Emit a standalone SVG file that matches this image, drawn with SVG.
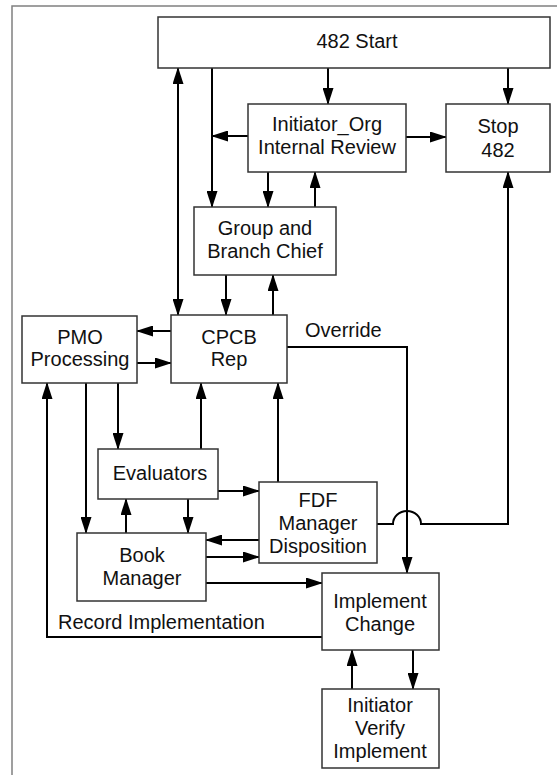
<svg xmlns="http://www.w3.org/2000/svg" width="557" height="775" viewBox="0 0 557 775">
<style>
.box{fill:#fff;stroke:#333;stroke-width:1.5}
.lbl{font-family:"Liberation Sans",Arial,sans-serif;font-size:20px;fill:#111;text-anchor:middle}
.free{font-family:"Liberation Sans",Arial,sans-serif;font-size:20px;fill:#111}
.c{fill:none;stroke:#000;stroke-width:2}
.a{marker-end:url(#ah)}
.b{marker-start:url(#as);marker-end:url(#ah)}
</style>
<defs>
<marker id="ah" markerUnits="userSpaceOnUse" markerWidth="17" markerHeight="11" refX="16" refY="5.5" orient="auto">
<path d="M0,0 L17,5.5 L0,11 z" fill="#000"/>
</marker>
<marker id="as" markerUnits="userSpaceOnUse" markerWidth="17" markerHeight="11" refX="1" refY="5.5" orient="auto">
<path d="M17,0 L0,5.5 L17,11 z" fill="#000"/>
</marker>
</defs>
<rect x="12" y="6" width="560" height="790" fill="#fff" stroke="#808080" stroke-width="1.5"/>
<g id="connectors">
<path class="c a" d="M328,68 V104"/>
<path class="c a" d="M508,68 V104"/>
<path class="c a" d="M212,68 V207"/>
<path class="c a" d="M248,136 H212"/>
<path class="c b" d="M178,68 V315"/>
<path class="c a" d="M268,172 V207"/>
<path class="c a" d="M315,207 V172"/>
<path class="c a" d="M406,137 H446"/>
<path class="c a" d="M226,275 V315"/>
<path class="c a" d="M273,315 V275"/>
<path class="c a" d="M171,331 H137"/>
<path class="c a" d="M137,363 H171"/>
<path class="c a" d="M287,347 H407 V573"/>
<path class="c a" d="M377,524 H393 A14,13 0 0 1 421,524 H508 V172"/>
<path class="c a" d="M118,383 V449"/>
<path class="c a" d="M86,383 V533"/>
<path class="c a" d="M201,449 V383"/>
<path class="c a" d="M278,482 V383"/>
<path class="c a" d="M218,491 H259"/>
<path class="c a" d="M126,533 V499"/>
<path class="c a" d="M188,499 V533"/>
<path class="c a" d="M259,540 H206"/>
<path class="c a" d="M206,557 H259"/>
<path class="c a" d="M206,583 H322"/>
<path class="c a" d="M322,637 H47 V383"/>
<path class="c a" d="M413,650 V689"/>
<path class="c a" d="M352,689 V650"/>
<text class="free" x="305" y="337">Override</text>
<text class="free" x="58" y="629">Record Implementation</text>
</g>
<g id="start"><rect class="box" x="158" y="17" width="392" height="51"/><text class="lbl" x="357" y="48">482 Start</text></g>
<g id="initiator-review"><rect class="box" x="248" y="104" width="158" height="68"/><text class="lbl" x="327" y="131">Initiator_Org</text><text class="lbl" x="327" y="154">Internal Review</text></g>
<g id="stop"><rect class="box" x="446" y="104" width="104" height="68"/><text class="lbl" x="498" y="133">Stop</text><text class="lbl" x="498" y="157">482</text></g>
<g id="group-branch"><rect class="box" x="194" y="207" width="142" height="68"/><text class="lbl" x="265" y="235">Group and</text><text class="lbl" x="265" y="258">Branch Chief</text></g>
<g id="cpcb"><rect class="box" x="171" y="315" width="116" height="68"/><text class="lbl" x="229" y="344">CPCB</text><text class="lbl" x="229" y="366">Rep</text></g>
<g id="pmo"><rect class="box" x="22" y="316" width="115" height="67"/><text class="lbl" x="80" y="344">PMO</text><text class="lbl" x="80" y="366">Processing</text></g>
<g id="evaluators"><rect class="box" x="98" y="449" width="120" height="50"/><text class="lbl" x="160" y="480">Evaluators</text></g>
<g id="fdf"><rect class="box" x="259" y="482" width="118" height="81"/><text class="lbl" x="318" y="507">FDF</text><text class="lbl" x="318" y="530">Manager</text><text class="lbl" x="318" y="553">Disposition</text></g>
<g id="book"><rect class="box" x="77" y="533" width="129" height="68"/><text class="lbl" x="142" y="562">Book</text><text class="lbl" x="142" y="585">Manager</text></g>
<g id="implement"><rect class="box" x="322" y="573" width="117" height="77"/><text class="lbl" x="380" y="608">Implement</text><text class="lbl" x="380" y="631">Change</text></g>
<g id="verify"><rect class="box" x="322" y="689" width="117" height="79"/><text class="lbl" x="380" y="712">Initiator</text><text class="lbl" x="380" y="735">Verify</text><text class="lbl" x="380" y="758">Implement</text></g>
</svg>
